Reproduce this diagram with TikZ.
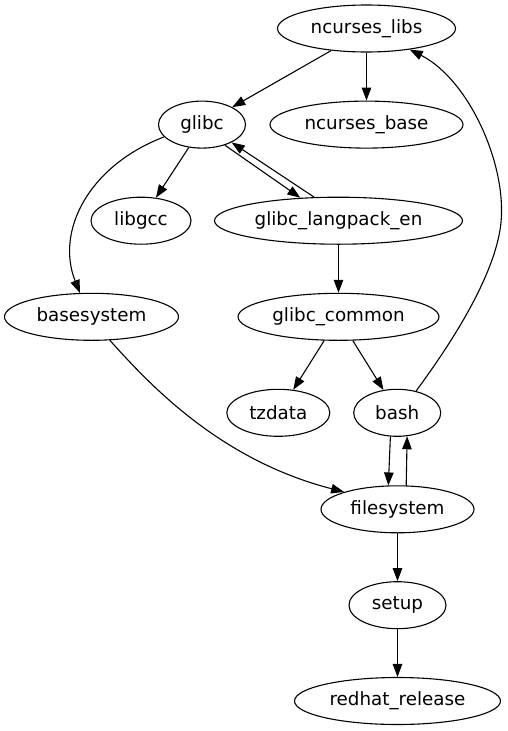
\documentclass[tikz,border=0pt]{standalone}
\usepackage{fontspec}
\setmainfont{DejaVu Sans}
\usetikzlibrary{shapes.geometric,arrows.meta}
\begin{document}
\begin{tikzpicture}[x=1pt,y=-1pt,
  pkg/.style={ellipse,draw,line width=1.1pt,minimum height=47pt,inner sep=0pt,font=\fontsize{18.3}{20}\selectfont},
  dep/.style={-{Triangle[length=13pt,width=9.5pt]},line width=1.1pt}]
\useasboundingbox (0,0) rectangle (507,731);
\node[pkg,minimum width=178pt] (ncl) at (366.5,28.5) {ncurses\_libs};
\node[pkg,minimum width=87pt] (glibc) at (202,124.6) {glibc};
\node[pkg,minimum width=193pt] (ncb) at (366.5,124.6) {ncurses\_base};
\node[pkg,minimum width=100pt] (libgcc) at (141,220.7) {libgcc};
\node[pkg,minimum width=248pt] (lp) at (338.5,220.7) {glibc\_langpack\_en};
\node[pkg,minimum width=174pt] (base) at (91.5,316.8) {basesystem};
\node[pkg,minimum width=201pt] (gc) at (338.5,316.8) {glibc\_common};
\node[pkg,minimum width=103pt] (tz) at (278.3,412.8) {tzdata};
\node[pkg,minimum width=87pt] (bash) at (397.2,412.8) {bash};
\node[pkg,minimum width=153pt] (fs) at (397.5,509.3) {filesystem};
\node[pkg,minimum width=97pt] (setup) at (397.5,605.2) {setup};
\node[pkg,minimum width=206pt] (rr) at (397.5,701) {redhat\_release};
\coordinate (bend) at (500,230);

\draw[dep] (ncl.212) -- (glibc.30);
\draw[dep] (ncl.south) -- (ncb.north);
\draw[dep] (glibc.-120) -- (libgcc.57);
\draw[dep] (glibc.-42) -- (lp.149);
\draw[dep] (lp.136) -- (glibc.-31);
\draw[dep] (glibc.198) .. controls (90,165) and (55,230) .. (base.116);
\draw[dep] (lp.south) -- (gc.north);
\draw[dep] (gc.-121) -- (tz.57);
\draw[dep] (gc.-59) -- (bash.121);
\draw[dep] (bash.49) .. controls (435,365) and (490,290) .. (bend) .. controls (510,170) and (470,80) .. (ncl.-26);
\draw[dep] (bash.-106) -- (fs.111);
\draw[dep] (fs.70) -- (bash.-67);
\draw[dep] (base.-52) .. controls (150,385) and (220,460) .. (fs.162);
\draw[dep] (fs.south) -- (setup.north);
\draw[dep] (setup.south) -- (rr.north);
\end{tikzpicture}
\end{document}
